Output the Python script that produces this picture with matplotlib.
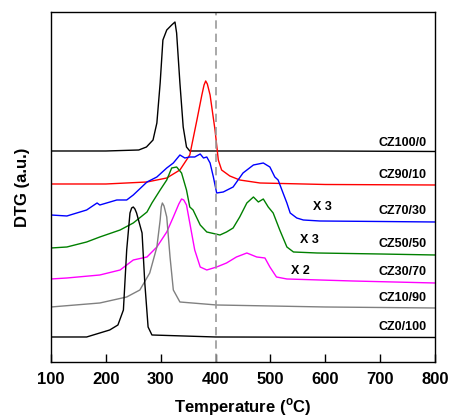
import matplotlib
matplotlib.use("Agg")
import matplotlib.pyplot as plt

plt.rcParams['font.family'] = ['Liberation Sans', 'DejaVu Sans']
plt.rcParams['mathtext.fontset'] = 'custom'
plt.rcParams['mathtext.bf'] = 'Liberation Sans:bold'
plt.rcParams['mathtext.rm'] = 'Liberation Sans:bold'

# temperatures (C) and curve heights (a.u.)
t_cz100 = [100, 200, 260, 274, 286, 293, 299, 304, 311, 320, 326, 329, 335, 341, 347, 353, 450, 600, 800]
h_cz100 = [211, 211, 212, 215, 222, 239, 279, 322, 332, 337, 340, 329, 279, 235, 215, 211, 211, 211, 210.5]

t_cz90 = [100, 200, 275, 311, 335, 353, 366, 375, 379, 382, 385, 390, 399, 405, 411, 426, 444, 481, 600, 800]
h_cz90 = [178, 178, 180, 184, 192, 207, 242, 267, 277, 281, 278, 267, 232, 202, 192, 186, 182, 179, 177.5, 177]

t_cz70 = [100, 129, 153, 165, 184, 189, 220, 238, 250, 275, 293, 311, 323, 335, 344, 353, 362, 372,
          378, 384, 390, 396, 402, 414, 432, 450, 469, 487, 499, 508, 514, 523, 530, 536, 548, 560,
          590, 700, 800]
h_cz70 = [147, 146, 150, 152, 159, 157, 162, 162, 167, 180, 185, 194, 199, 207, 204, 205, 205, 208,
          204, 205, 199, 185, 169, 170, 175, 189, 197, 199, 195, 185, 182, 169, 159, 149, 144, 142,
          141, 140.5, 140]

t_cz50 = [100, 129, 165, 189, 226, 250, 275, 284, 299, 311, 320, 329, 338, 347, 353, 359, 372, 384,
          408, 420, 432, 444, 457, 469, 478, 487, 496, 505, 517, 530, 542, 585, 700, 800]
h_cz50 = [114, 115, 120, 125, 132, 139, 150, 159, 172, 182, 194, 195, 189, 172, 155, 152, 137, 130,
          127, 130, 134, 145, 159, 165, 160, 163, 155, 149, 132, 115, 110, 109, 108, 107]

t_cz30 = [100, 129, 189, 226, 250, 275, 293, 311, 323, 333, 338, 342, 347, 353, 362, 372, 384, 402, 420,
          438, 457, 475, 490, 499, 511, 530, 650, 800]
h_cz30 = [83, 84, 87, 92, 102, 105, 115, 130, 145, 158, 163, 162, 157, 139, 112, 95, 92, 95, 99,
          105, 109, 105, 104, 95, 85, 83, 81, 79]

t_cz10 = [100, 189, 238, 262, 280, 293, 299, 301, 303, 306, 311, 317, 323, 335, 402, 600, 800]
h_cz10 = [55, 59, 65, 72, 89, 115, 142, 155, 159, 156, 145, 105, 72, 60, 57, 55, 54]

t_cz0 = [100, 165, 189, 207, 222, 232, 238, 244, 247, 250, 253, 256, 266, 271, 277, 284, 400, 800]
h_cz0 = [25, 25, 29, 32, 37, 52, 112, 149, 154, 155, 153, 149, 129, 79, 35, 27, 25, 24.5]

curves = [
    (t_cz100, h_cz100, 'black', 'CZ100/0', 219),
    (t_cz90, h_cz90, 'red', 'CZ90/10', 187),
    (t_cz70, h_cz70, 'blue', 'CZ70/30', 151),
    (t_cz50, h_cz50, 'green', 'CZ50/50', 118),
    (t_cz30, h_cz30, 'magenta', 'CZ30/70', 90),
    (t_cz10, h_cz10, 'gray', 'CZ10/90', 64),
    (t_cz0, h_cz0, 'black', 'CZ0/100', 35),
]

scales = [('X 3', 594, 155), ('X 3', 572, 122), ('X 2', 554, 91)]

fig = plt.figure(figsize=(4.5, 4.18), dpi=100)
ax = fig.add_axes([0.1133, 0.134, 0.8534, 0.8373])

for t, h, c, name, ly in curves:
    ax.plot(t, h, color=c, lw=1.0)
    ax.text(785, ly, name, ha='right', va='center', fontsize=9, fontweight='bold')

for s, x, y in scales:
    ax.text(x, y, s, ha='center', va='center', fontsize=9, fontweight='bold')

ax.axvline(400, color='#999999', lw=1.2, ls=(0, (5, 3)))

ax.set_xlim(100, 800)
ax.set_ylim(0, 350)
ax.set_xticks([100, 200, 300, 400, 500, 600, 700, 800])
ax.set_yticks([])
ax.tick_params(axis='x', direction='in', length=6, width=1, labelsize=12, pad=7)
for lab in ax.get_xticklabels():
    lab.set_fontweight('bold')
ax.set_xlabel(r'Temperature ($^{\mathbf{o}}$C)', fontsize=12, fontweight='bold', labelpad=7)
ax.set_ylabel('DTG (a.u.)', fontsize=12, fontweight='bold', labelpad=15)
for sp in ax.spines.values():
    sp.set_linewidth(1.0)

fig.savefig('out.png', dpi=100)
